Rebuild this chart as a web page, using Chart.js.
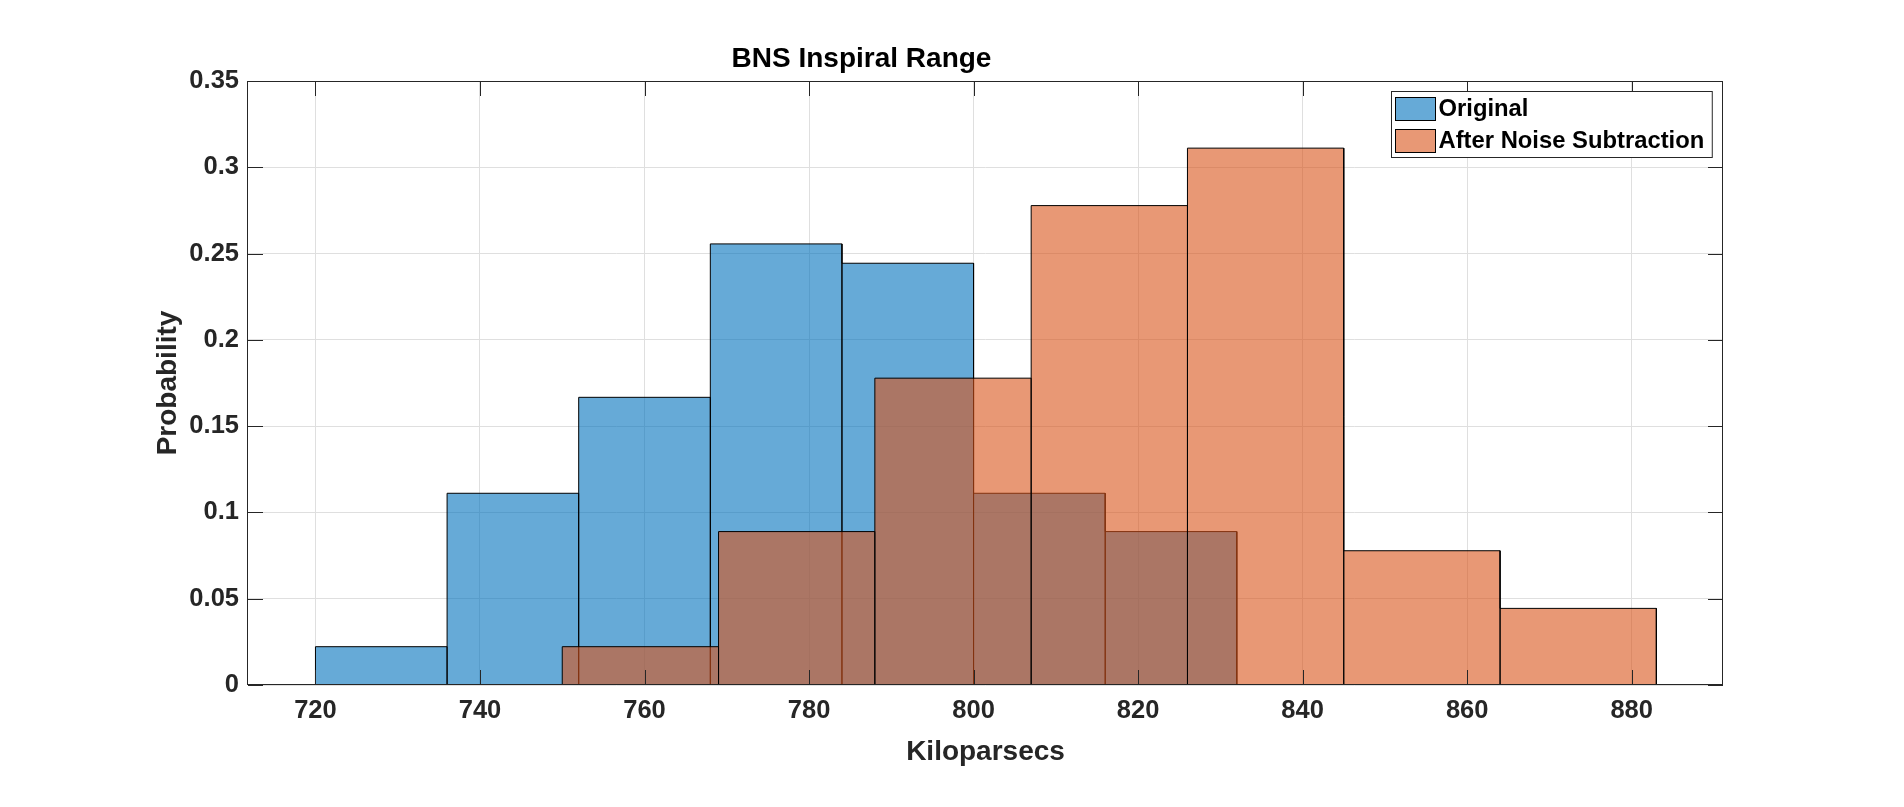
<!DOCTYPE html>
<html>
<head>
<meta charset="utf-8">
<title>BNS Inspiral Range</title>
<script src="https://cdn.jsdelivr.net/npm/chart.js@4.4.1/dist/chart.umd.min.js"></script>
<style>
    html, body { margin: 0; padding: 0; background: #fff; }
    #wrap { width: 1904px; height: 807px; position: relative; }
</style>
</head>
<body>
<div id="wrap"><canvas id="histChart"></canvas></div>
<script>
// bin edges and probabilities
const originalEdges = [720, 736, 752, 768, 784, 800, 816, 832];
const originalProb = [0.0222, 0.1111, 0.1667, 0.2556, 0.2444, 0.1111, 0.0889];
const subtractedEdges = [750, 769, 788, 807, 826, 845, 864, 883];
const subtractedProb = [0.0222, 0.0889, 0.1778, 0.2778, 0.3111, 0.0778, 0.0444];

const xTicks = [720, 740, 760, 780, 800, 820, 840, 860, 880];
const yTicks = [0, 0.05, 0.1, 0.15, 0.2, 0.25, 0.3, 0.35];
const yTickLabels = ['0', '0.05', '0.1', '0.15', '0.2', '0.25', '0.3', '0.35'];

const FONT = "'Liberation Sans', Arial, Helvetica, sans-serif";
const AXIS_COLOR = '#262626';

// outline of a histogram: goes down to 0 at every edge so inner edges get drawn too
function histOutline(edges, probs) {
    const pts = [{ x: edges[0], y: 0 }];
    probs.forEach((p, i) => {
        pts.push({ x: edges[i], y: p });
        pts.push({ x: edges[i + 1], y: p });
        pts.push({ x: edges[i + 1], y: 0 });
    });
    return pts;
}

// box round the plot and inward ticks on all four sides
const matlabAxes = {
    id: 'matlabAxes',
    afterDatasetsDraw(chart) {
        const { ctx, chartArea: a, scales } = chart;
        const tl = 15;
        ctx.save();
        ctx.strokeStyle = AXIS_COLOR;
        ctx.lineWidth = 1;
        ctx.beginPath();
        xTicks.forEach(v => {
            const x = Math.round(scales.x.getPixelForValue(v)) + 0.5;
            ctx.moveTo(x, a.bottom); ctx.lineTo(x, a.bottom - tl);
            ctx.moveTo(x, a.top); ctx.lineTo(x, a.top + tl);
        });
        yTicks.forEach(v => {
            const y = Math.round(scales.y.getPixelForValue(v)) + 0.5;
            ctx.moveTo(a.left, y); ctx.lineTo(a.left + tl, y);
            ctx.moveTo(a.right, y); ctx.lineTo(a.right - tl, y);
        });
        ctx.stroke();
        ctx.strokeRect(Math.round(a.left) - 0.5, Math.round(a.top) + 0.5,
            Math.round(a.right - a.left), Math.round(a.bottom - a.top) - 1);
        ctx.restore();
    }
};

// legend in the top right corner inside the axes, like MATLAB's 'northeast'
const boxLegend = {
    id: 'boxLegend',
    afterDraw(chart) {
        const { ctx, chartArea: a } = chart;
        const sets = chart.data.datasets.slice().sort((p, q) => p.legendIndex - q.legendIndex);
        ctx.save();
        ctx.font = "bold 23.8px " + FONT;
        const textW = Math.max(...sets.map(d => ctx.measureText(d.label).width));
        const w = 47 + textW + 8, h = 66;
        const x0 = Math.round(a.right - 11 - w) + 0.5, y0 = Math.round(a.top + 10) + 0.5;
        ctx.fillStyle = '#fff';
        ctx.fillRect(x0, y0, w, h);
        ctx.strokeStyle = AXIS_COLOR;
        ctx.lineWidth = 1;
        ctx.strokeRect(x0, y0, w, h);
        sets.forEach((d, i) => {
            const sy = y0 + 6 + i * 32;
            ctx.fillStyle = d.legendColor;
            ctx.fillRect(x0 + 4, sy, 40, 23);
            ctx.strokeStyle = '#000';
            ctx.strokeRect(x0 + 4, sy, 40, 23);
            ctx.fillStyle = '#000';
            ctx.textBaseline = 'middle';
            ctx.textAlign = 'left';
            ctx.fillText(d.label, x0 + 47, sy + 12);
        });
        ctx.restore();
    }
};

const histChart = new Chart(document.getElementById('histChart').getContext('2d'), {
    type: 'line',
    data: {
        datasets: [
            {
                label: 'Original',
                data: histOutline(originalEdges, originalProb),
                backgroundColor: 'rgba(0, 114, 189, 0.6)',
                legendColor: 'rgb(102, 170, 215)',
                legendIndex: 0,
                borderColor: '#000',
                borderWidth: 1,
                fill: 'origin',
                pointRadius: 0,
                tension: 0,
                order: 2
            },
            {
                label: 'After Noise Subtraction',
                data: histOutline(subtractedEdges, subtractedProb),
                backgroundColor: 'rgba(217, 83, 25, 0.6)',
                legendColor: 'rgb(232, 152, 117)',
                legendIndex: 1,
                borderColor: '#000',
                borderWidth: 1,
                fill: 'origin',
                pointRadius: 0,
                tension: 0,
                order: 1
            }
        ]
    },
    options: {
        responsive: true,
        maintainAspectRatio: false,
        animation: false,
        layout: { padding: { left: 0, right: 181, top: 0, bottom: 0 } },
        plugins: {
            legend: { display: false },
            tooltip: { enabled: false },
            title: {
                display: true,
                text: 'BNS Inspiral Range',
                color: '#000',
                font: { family: FONT, size: 28, weight: 'bold' },
                padding: { top: 42.5, bottom: 4.9 }
            }
        },
        scales: {
            x: {
                type: 'linear',
                min: 711.8,
                max: 891.1,
                afterBuildTicks: s => { s.ticks = xTicks.map(v => ({ value: v })); },
                afterFit: s => { s.height = 122; },
                ticks: {
                    color: AXIS_COLOR,
                    font: { family: FONT, size: 25.5, weight: 'bold' },
                    padding: 11,
                    maxRotation: 0,
                    autoSkip: false
                },
                grid: { color: '#dfdfdf', drawTicks: false },
                border: { display: false },
                title: {
                    display: true,
                    text: 'Kiloparsecs',
                    color: AXIS_COLOR,
                    font: { family: FONT, size: 28, weight: 'bold' },
                    padding: { top: 0, bottom: 38 }
                }
            },
            y: {
                min: 0,
                max: 0.35,
                afterBuildTicks: s => { s.ticks = yTicks.map(v => ({ value: v })); },
                afterFit: s => { s.width = 248; },
                ticks: {
                    color: AXIS_COLOR,
                    font: { family: FONT, size: 25.5, weight: 'bold' },
                    padding: 9,
                    callback: (value, index) => yTickLabels[index]
                },
                grid: { color: '#dfdfdf', drawTicks: false },
                border: { display: false },
                title: {
                    display: true,
                    text: 'Probability',
                    color: AXIS_COLOR,
                    font: { family: FONT, size: 28, weight: 'bold' },
                    padding: { top: 151.5, bottom: 0 }
                }
            }
        }
    },
    plugins: [matlabAxes, boxLegend]
});
</script>
</body>
</html>
